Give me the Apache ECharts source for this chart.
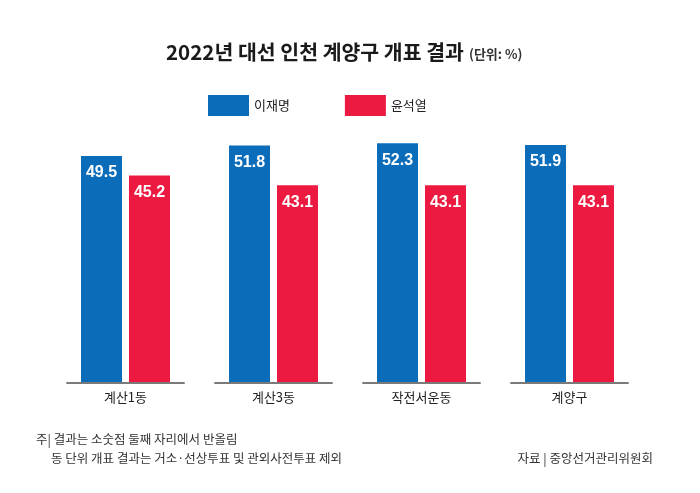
<!DOCTYPE html>
<html>
<head>
<meta charset="utf-8">
<script src="https://cdn.jsdelivr.net/npm/echarts@6/dist/echarts.min.js"></script>
<style>
  html, body { margin: 0; padding: 0; background: #fff; }
  #chart { width: 700px; height: 493px; }
</style>
</head>
<body>
<div id="chart"></div>
<script>
const districts = ["계산1동", "계산3동", "작전서운동", "계양구"];
const leeValues = [49.5, 51.8, 52.3, 51.9];
const yoonValues = [45.2, 43.1, 43.1, 43.1];
const candidates = ["이재명", "윤석열"];

const BLUE = "#0b6dba";
const RED = "#ec1a41";
const FONT = "'Liberation Sans', 'Noto Sans CJK KR', sans-serif";
const KFONT = "'Noto Sans CJK KR', sans-serif";

const chart = echarts.init(document.getElementById("chart"), null, {
  width: 700,
  height: 493,
});

// bar labels inside the top of each bar
const barLabel = {
  show: true,
  position: "insideTop",
  distance: 9,
  color: "#fff",
  fontSize: 16,
  fontWeight: "bold",
  fontFamily: FONT,
  formatter: (p) => p.value.toFixed(1),
};

const noteStyle = { fontSize: 12.5, fontWeight: "normal", color: "#333", fontFamily: KFONT };

const option = {
  backgroundColor: "#fff",
  animation: false,
  title: [
    {
      text: "{main|2022년 대선 인천 계양구 개표 결과} {unit|(단위: %)}",
      left: 161,
      top: 37,
      textStyle: {
        rich: {
          main: { fontSize: 20.5, fontWeight: "bold", color: "#1a1a1a", fontFamily: KFONT },
          unit: { fontSize: 13, color: "#333", fontFamily: KFONT, padding: [3, 0, 0, 0] },
        },
      },
    },
    {
      text: "주| 결과는 소숫점 둘째 자리에서 반올림",
      left: 31,
      top: 428,
      textStyle: noteStyle,
    },
    {
      text: "동 단위 개표 결과는 거소·선상투표 및 관외사전투표 제외",
      left: 46,
      top: 447,
      textStyle: noteStyle,
    },
    {
      text: "자료 | 중앙선거관리위원회",
      right: 42,
      top: 447,
      textStyle: noteStyle,
    },
  ],
  legend: {
    data: candidates,
    left: 203,
    top: 90,
    icon: "rect",
    itemWidth: 41,
    itemHeight: 21,
    itemGap: 55,
    textStyle: { fontSize: 13, color: "#222", fontFamily: KFONT },
  },
  grid: {
    left: 51.5,
    right: 56.5,
    top: 108,
    bottom: 111,
  },
  xAxis: {
    type: "category",
    data: districts,
    axisLine: { show: false },
    axisTick: { show: false },
    axisLabel: {
      margin: 9,
      fontSize: 13,
      color: "#222",
      fontFamily: KFONT,
    },
  },
  yAxis: {
    type: "value",
    min: 0,
    max: 60,
    show: false,
    splitLine: { show: false },
  },
  series: [
    {
      name: candidates[0],
      type: "bar",
      data: leeValues,
      barWidth: 41,
      barGap: "17%",
      itemStyle: { color: BLUE },
      label: barLabel,
    },
    {
      name: candidates[1],
      type: "bar",
      data: yoonValues,
      barWidth: 41,
      itemStyle: { color: RED },
      label: barLabel,
    },
    {
      // gray baseline segment under each group
      name: "baseline",
      type: "custom",
      data: districts.map(() => 0),
      silent: true,
      z: 3,
      renderItem: function (params, api) {
        const pt = api.coord([api.value(0), 0]);
        const w = api.size([1, 0])[0] * 0.8;
        return {
          type: "line",
          shape: { x1: pt[0] - w / 2, y1: pt[1] + 1, x2: pt[0] + w / 2, y2: pt[1] + 1 },
          style: { stroke: "#7a7a7a", lineWidth: 2 },
        };
      },
      encode: { x: 0, y: 1 },
    },
  ],
};

chart.setOption(option);
</script>
</body>
</html>
